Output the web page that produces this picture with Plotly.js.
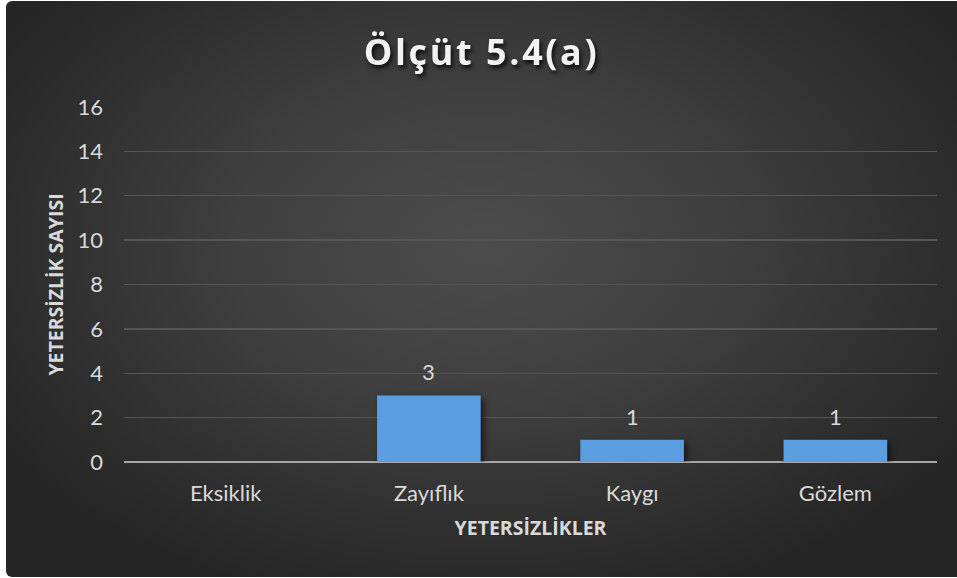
<!DOCTYPE html>
<html>
<head>
<meta charset="utf-8">
<script src="https://cdn.plot.ly/plotly-3.0.1.min.js"></script>
<style>
  html, body { margin: 0; padding: 0; background: #ffffff; width: 957px; height: 578px; overflow: hidden; }
  #chart {
    position: absolute; left: 6px; top: 1px; width: 951px; height: 576px;
    border-radius: 6px 0 0 6px;
    background: radial-gradient(ellipse 60% 65% at 50% 42%, #4c4c4c 0%, #3e3e3e 45%, #2e2e2e 80%, #262626 100%);
  }
  #chart .gtitle { letter-spacing: 2.6px; filter: drop-shadow(2px 3px 2px rgba(0,0,0,0.8)); }
  #chart .bars .point path { filter: drop-shadow(3px 3px 3px rgba(0,0,0,0.6)); }
</style>
</head>
<body>
<div id="chart"></div>
<script>
const categories = ["Eksiklik", "Zayıflık", "Kaygı", "Gözlem"];
const counts = [0, 3, 1, 1];
const yTicks = [0, 2, 4, 6, 8, 10, 12, 14, 16];
const chartTitle = "Ölçüt 5.4(a)";
const xTitle = "YETERSİZLİKLER";
const yTitle = "YETERSİZLİK SAYISI";

const labelFont = { family: "Lato, 'Open Sans', sans-serif", size: 22, color: "#d9d9d9" };
const axisTitleFont = { family: "'Open Sans', sans-serif", size: 19.5, color: "#d9d9d9" };

const trace = {
  type: "bar",
  x: categories,
  y: counts,
  marker: { color: "#5a9de0", line: { width: 0 } },
  hoverinfo: "skip"
};

const annotations = categories.map((c, i) => counts[i] > 0 ? {
  x: c, y: counts[i], xref: "x", yref: "y",
  text: String(counts[i]), showarrow: false,
  yanchor: "bottom", yshift: 8,
  font: labelFont
} : null).filter(a => a);

const layout = {
  width: 951, height: 576,
  paper_bgcolor: "rgba(0,0,0,0)",
  plot_bgcolor: "rgba(0,0,0,0)",
  margin: { l: 118, r: 20, t: 106, b: 115 },
  bargap: 0.49,
  showlegend: false,
  title: {
    text: "<b>" + chartTitle + "</b>",
    font: { family: "'Open Sans', sans-serif", size: 36, color: "#f2f2f2" },
    x: 0.5, xanchor: "center", y: 0.91, yanchor: "middle"
  },
  xaxis: {
    type: "category",
    tickfont: labelFont,
    ticks: "", showgrid: false, showline: false, zeroline: false,
    ticklabelstandoff: 16,
    title: { text: "<b>" + xTitle + "</b>", font: axisTitleFont, standoff: 16 }
  },
  yaxis: {
    range: [0, 16],
    tickvals: yTicks,
    ticktext: yTicks.map(String),
    tickfont: labelFont,
    ticks: "", ticklabelstandoff: 20,
    showgrid: true, gridcolor: "#555555", gridwidth: 1.3,
    zeroline: true, zerolinecolor: "#a6a6a6", zerolinewidth: 2.5,
    showline: false,
    title: { text: "<b>" + yTitle + "</b>", font: axisTitleFont, standoff: 8 }
  },
  annotations: annotations
};

Plotly.newPlot("chart", [trace], layout, { displayModeBar: false, staticPlot: true });
</script>
</body>
</html>
